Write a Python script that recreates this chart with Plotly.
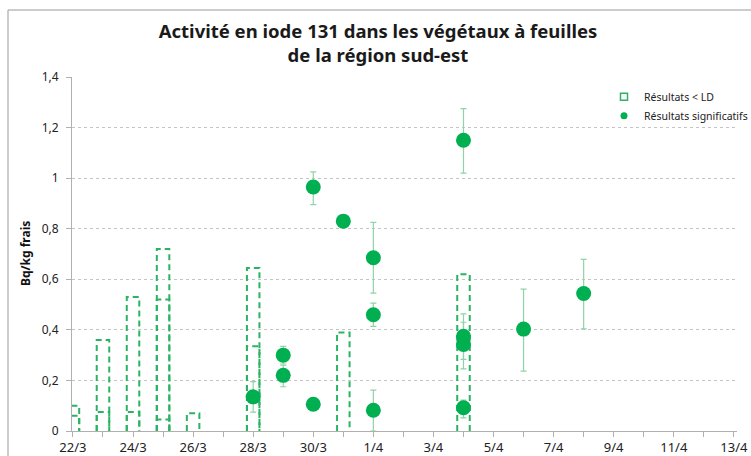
import pandas as pd
import plotly.graph_objects as go

# résultats < LD : hauteur = limite de détection
ld_dates = ["2011-03-22", "2011-03-22", "2011-03-23", "2011-03-23", "2011-03-24", "2011-03-24",
            "2011-03-25", "2011-03-25", "2011-03-25", "2011-03-26", "2011-03-28", "2011-03-28",
            "2011-03-31", "2011-04-04"]
ld_values = [0.10, 0.06, 0.36, 0.075, 0.53, 0.075, 0.72, 0.52, 0.045, 0.07, 0.645, 0.335, 0.39, 0.62]

# résultats significatifs
sig_dates = ["2011-03-28", "2011-03-29", "2011-03-29", "2011-03-30", "2011-03-30", "2011-03-31",
             "2011-04-01", "2011-04-01", "2011-04-01", "2011-04-04", "2011-04-04", "2011-04-04",
             "2011-04-04", "2011-04-06", "2011-04-08"]
sig_values = [0.135, 0.30, 0.22, 0.965, 0.106, 0.83, 0.685, 0.46, 0.082, 1.15, 0.375, 0.342,
              0.092, 0.403, 0.544]
sig_err_plus = [0.06, 0.035, 0.04, 0.06, 0, 0, 0.14, 0.046, 0.08, 0.125, 0.088, 0.088, 0.03,
                0.158, 0.135]
sig_err_minus = [0.06, 0.035, 0.045, 0.07, 0, 0, 0.14, 0.046, 0.082, 0.13, 0.092, 0.096, 0.04,
                 0.166, 0.14]

tick_dates = ["2011-03-22", "2011-03-24", "2011-03-26", "2011-03-28", "2011-03-30", "2011-04-01",
              "2011-04-03", "2011-04-05", "2011-04-07", "2011-04-09", "2011-04-11", "2011-04-13"]
tick_labels = ["22/3", "24/3", "26/3", "28/3", "30/3", "1/4", "3/4", "5/4", "7/4", "9/4", "11/4", "13/4"]

GREEN = "#00b050"
DASH_GREEN = "#2bb363"
ERR_GREEN = "#8fd3a8"
GRID = "#c4c4c4"

# contours des rectangles (ouverts en bas)
half = pd.Timedelta(hours=5)
rx, ry = [], []
for d, v in zip(ld_dates, ld_values):
    t = pd.Timestamp(d)
    rx += [t - half, t - half, t + half, t + half, None]
    ry += [0, v, v, 0, None]

fig = go.Figure()
fig.add_trace(go.Scatter(x=rx, y=ry, mode="lines", showlegend=False,
                         line=dict(color=DASH_GREEN, width=2, dash="6px,4px")))
fig.add_trace(go.Scatter(
    x=pd.to_datetime(sig_dates), y=sig_values, mode="markers", showlegend=False,
    marker=dict(color=GREEN, size=15),
    error_y=dict(type="data", array=sig_err_plus, arrayminus=sig_err_minus,
                 color=ERR_GREEN, thickness=1.2, width=3)))

# entrées de légende
fig.add_trace(go.Scatter(x=[None], y=[None], mode="markers", name="Résultats < LD",
                         marker=dict(symbol="square-open", size=7, color=DASH_GREEN,
                                     line=dict(width=1.5, color=DASH_GREEN))))
fig.add_trace(go.Scatter(x=[None], y=[None], mode="markers", name="Résultats significatifs",
                         marker=dict(symbol="circle", size=7, color=GREEN)))

L, R, T, B = 72, 14, 77, 25
W, H = 751, 456
pw, ph = W - L - R, H - T - B

fig.update_layout(
    width=W, height=H,
    margin=dict(l=L, r=R, t=T, b=B, autoexpand=False),
    paper_bgcolor="white", plot_bgcolor="white",
    separators=", ",
    font=dict(family="Noto Sans", color="#222222"),
    title=dict(text="Activité en iode 131 dans les végétaux à feuilles<br>de la région sud-est",
               x=378 / W, xanchor="center", y=1 - 38 / H, yanchor="top", yref="container",
               font=dict(family="Noto Sans", size=18.5, weight="bold", color="#1a1a1a")),
    legend=dict(x=0.80, xanchor="left", y=0.985, yanchor="top", bgcolor="rgba(0,0,0,0)",
                font=dict(size=10.5, color="#222222"), tracegroupgap=4),
    showlegend=True,
)

fig.update_xaxes(
    type="date", range=["2011-03-21 23:15", "2011-04-13 02:30"], automargin=False,
    tickmode="array", tickvals=tick_dates, ticktext=tick_labels,
    ticks="outside", ticklen=5, tickcolor="#b0b0b0", ticklabelstandoff=-1,
    minor=dict(dtick=86400000, tick0="2011-03-22", ticks="outside", ticklen=5, tickcolor="#b0b0b0"),
    showline=True, linecolor="#b0b0b0", showgrid=False, zeroline=False,
    tickfont=dict(size=13, color="#222222"),
)
fig.update_yaxes(
    range=[0, 1.4], dtick=0.2, tick0=0, automargin=False,
    ticks="outside", ticklen=5, tickcolor="#b0b0b0", ticklabelstandoff=5,
    showline=True, linecolor="#b0b0b0", zeroline=False,
    showgrid=True, gridcolor=GRID, griddash="dot", gridwidth=1,
    tickfont=dict(size=12, color="#222222"),
)

fig.add_annotation(text="<b>Bq/kg frais</b>", textangle=-90, xref="paper", yref="paper",
                   x=0, y=0.5, xanchor="center", yanchor="middle", xshift=-47,
                   showarrow=False, font=dict(size=12, color="#111111"))

# cadre du graphique
fig.add_shape(type="rect", xref="paper", yref="paper",
              x0=(8 - L) / pw, x1=(W + 20 - L) / pw, y0=-(B + 20) / ph, y1=1 + (T - 10) / ph,
              line=dict(color="#999999", width=1), layer="below")

fig.write_html("out.html", config={"displayModeBar": False},
               post_script="document.body.style.margin = '0';")
